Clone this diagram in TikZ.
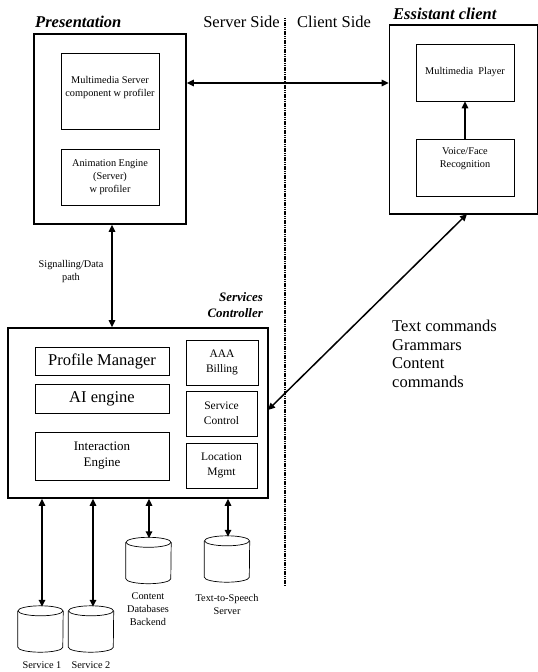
\documentclass[tikz,border=0pt]{standalone}
\usepackage{fontspec}
\setmainfont{Liberation Serif}
\usetikzlibrary{arrows.meta}
\newcommand\dbdraw[1]{%
  \draw[line width=0.7pt] ([yshift=-5pt]#1.north) ellipse [x radius=22.5pt, y radius=5pt];
  \draw[line width=0.7pt] ([yshift=-5pt]#1.north west) -- ([yshift=5pt]#1.south west)
    arc[start angle=180, end angle=360, x radius=22.5pt, y radius=5pt] -- ([yshift=-5pt]#1.north east);}
\begin{document}
\begin{tikzpicture}[x=1pt,y=-1pt,
  inner/.style={draw, line width=0.7pt},
  conn/.style={line width=1.5pt, {Triangle[length=7pt,width=6.5pt]}-{Triangle[length=7pt,width=6.5pt]}},
  oneway/.style={line width=1.5pt, -{Triangle[length=7pt,width=6.5pt]}},
  db/.style={minimum width=45pt, minimum height=46pt, inner sep=0pt},
  small/.style={font=\fontsize{10.3}{13}\selectfont, align=center, inner sep=0pt},
  mid/.style={font=\fontsize{11.5}{15}\selectfont, align=center, inner sep=0pt},
  big/.style={font=\fontsize{16.5}{18}\selectfont, align=center, inner sep=0pt},
  title/.style={font=\fontsize{16.5}{18}\selectfont\bfseries\itshape, inner sep=0pt},
  plain/.style={font=\fontsize{16.5}{18.5}\selectfont, inner sep=0pt}
]
\useasboundingbox (0,0) rectangle (538,672);

% side divider
\coordinate (dtop) at (285,18);
\coordinate (dbot) at (285,586);
\draw[line width=1.3pt, dash pattern=on 1.2pt off 0.6pt] (dtop) -- (dbot);
\node[plain, anchor=base east] (ss) at (280,27) {Server Side};
\node[plain, anchor=base west] (cs) at (297,27) {Client Side};

% Presentation
\node[title, anchor=base west] (prest) at (35,27) {Presentation};
\node[draw, line width=1.6pt, minimum width=152pt, minimum height=190pt] (pres) at (110,129) {};
\node[inner, minimum width=98pt, minimum height=76pt] (mms) at (110,91) {};
\node[small] (mmst) at (110,87.5) {Multimedia Server\\component w profiler};
\node[inner, minimum width=98pt, minimum height=56pt, small] (anim) at (110,177) {Animation Engine\\(Server)\\w profiler};

% Essistant client
\node[title, anchor=base west] (clit) at (393,19) {Essistant client};
\node[draw, line width=1.6pt, minimum width=148pt, minimum height=189pt] (cli) at (463.5,119.5) {};
\node[inner, minimum width=98pt, minimum height=57pt, small] (mmp) at (465,72.5) {Multimedia\ \ Player};
\node[inner, minimum width=98pt, minimum height=57pt] (vfr) at (465,167.5) {};
\node[small] (vfrt) at (465,158.5) {Voice/Face\\Recognition};
\draw[oneway] (vfr.north) -- (mmp.south);

\draw[conn] (pres.east |- 0,83) -- (cli.west |- 0,83);

% Signalling
\node[small] (sig) at (71,272) {Signalling/Data\\path};

% Services controller
\node[font=\fontsize{12.9}{16}\selectfont\bfseries\itshape, align=right, inner sep=0pt, anchor=east] (sct) at (263,305) {Services\\Controller};
\node[draw, line width=1.6pt, minimum width=260pt, minimum height=170pt] (sc) at (138,413) {};
\node[inner, minimum width=134pt, minimum height=28pt, big] (pm) at (102,361) {Profile Manager};
\node[inner, minimum width=134pt, minimum height=29pt, big] (ai) at (102,398.5) {AI engine};
\node[inner, minimum width=134pt, minimum height=48pt, font=\fontsize{13}{16}\selectfont, align=center, inner sep=0pt] (ie) at (102,456) {Interaction\\Engine};
\node[inner, minimum width=72pt, minimum height=45pt, mid] (aaa) at (222,362.5) {AAA\\Billing};
\node[inner, minimum width=71pt, minimum height=45pt, mid] (svc) at (221.5,413.5) {Service\\Control};
\node[inner, minimum width=71pt, minimum height=45pt, mid] (loc) at (221.5,465.5) {Location\\Mgmt};

\draw[conn] (pres.south -| 112,0) -- (sc.north -| 112,0);

% client <-> services
\coordinate (cb) at (467,214);
\coordinate (se) at (268,410);
\draw[conn] (cb) -- (se);

\node[plain, align=left, anchor=north west] (tc) at (392,320) {Text commands\\Grammars\\Content\\commands};

% databases
\node[db] (s1) at (40.5,629) {};
\node[db] (s2) at (91,629) {};
\node[db] (cd) at (148.5,560.5) {};
\node[db] (tts) at (227,559) {};
\dbdraw{s1}\dbdraw{s2}\dbdraw{cd}\dbdraw{tts}
\node[small] (s1t) at (42,665) {Service 1};
\node[small] (s2t) at (91,665) {Service 2};
\node[small] (cdt) at (148,609.5) {Content\\Databases\\Backend};
\node[small] (ttst) at (227,604.5) {Text-to-Speech\\Server};

\draw[conn] (sc.south -| 42,0) -- ([yshift=-1pt]s1.north -| 42,0);
\draw[conn] (sc.south -| 93,0) -- ([yshift=-1pt]s2.north -| 93,0);
\draw[conn] (sc.south -| 149,0) -- ([yshift=-1pt]cd.north -| 149,0);
\draw[conn] (sc.south -| 228,0) -- ([yshift=-1pt]tts.north -| 228,0);
\end{tikzpicture}
\end{document}
